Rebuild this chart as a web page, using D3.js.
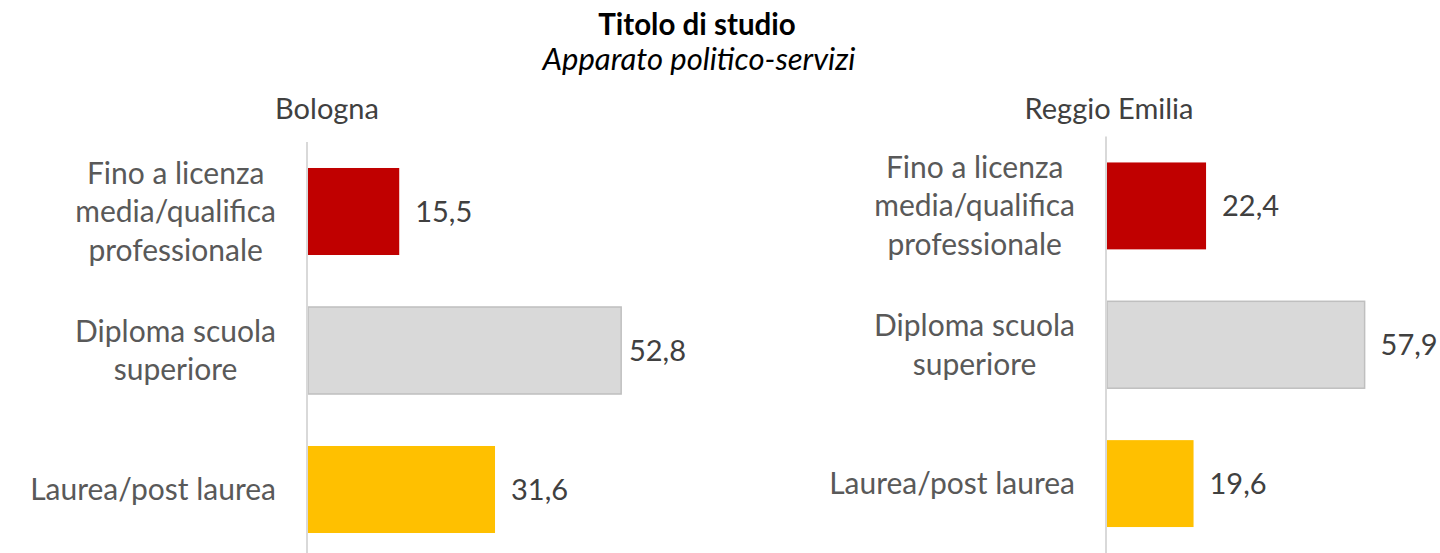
<!DOCTYPE html>
<html>
<head>
<meta charset="utf-8">
<script src="https://cdn.jsdelivr.net/npm/d3@7"></script>
<style>
  html, body { margin: 0; padding: 0; background: #fff; }
  svg text { font-family: Lato, "Open Sans", sans-serif; }
</style>
</head>
<body>
<svg width="1440" height="553"></svg>
<script>
const categories = ['Fino a licenza media/qualifica professionale', 'Diploma scuola superiore', 'Laurea/post laurea'];
const categoryLines = [['Fino a licenza', 'media/qualifica', 'professionale'], ['Diploma scuola', 'superiore'], ['Laurea/post laurea']];
const cities = ['Bologna', 'Reggio Emilia'];
const bolognaValues = [15.5, 52.8, 31.6];
const reggioValues = [22.4, 57.9, 19.6];
const barColors = ['#c00000', '#d9d9d9', '#ffc000'];

const svg = d3.select('svg');

const it = d3.formatLocale({ decimal: ',', thousands: '.', grouping: [3], currency: ['€', ''] });
const fmt = it.format('.1f');

svg.append('text')
  .attr('x', 697).attr('y', 35)
  .attr('text-anchor', 'middle')
  .attr('font-size', 29.5).attr('font-weight', 'bold').attr('fill', '#000')
  .text('Titolo di studio');

svg.append('text')
  .attr('x', 699).attr('y', 70)
  .attr('text-anchor', 'middle')
  .attr('font-size', 31).attr('font-style', 'italic').attr('fill', '#000')
  .text('Apparato politico-servizi');

const panels = [
  { city: cities[0], values: bolognaValues, axisX: 307, pxWidth: 357, y0: 142, y1: 559, titleX: 327, maxRight: 686 },
  { city: cities[1], values: reggioValues, axisX: 1106, pxWidth: 268, y0: 136.5, y1: 553, titleX: 1109, maxRight: 1440 }
];

const render = (p) => {
  const data = categories.map((c, i) => ({ cat: c, lines: categoryLines[i], value: p.values[i], color: barColors[i] }));

  const xScale = d3.scaleLinear().domain([0, 60]).range([p.axisX, p.axisX + p.pxWidth]);
  const yScale = d3.scaleBand()
    .domain(categories)
    .range([p.y0, p.y1])
    .paddingInner(0.374)
    .paddingOuter(0.187);

  const g = svg.append('g');

  g.append('text')
    .attr('x', p.titleX).attr('y', 119)
    .attr('text-anchor', 'middle')
    .attr('font-size', 29).attr('fill', '#404040')
    .text(p.city);

  // bars
  g.selectAll('rect.bar')
    .data(data)
    .enter()
    .append('rect')
    .attr('class', 'bar')
    .attr('x', xScale(0) + 1)
    .attr('y', (d) => yScale(d.cat))
    .attr('width', (d) => xScale(d.value) - xScale(0) - 1)
    .attr('height', yScale.bandwidth())
    .attr('fill', (d) => d.color)
    .attr('stroke', (d) => (d.color === '#d9d9d9' ? '#bfbfbf' : 'none'))
    .attr('stroke-width', 1.5);

  // vertical axis line
  g.append('line')
    .attr('x1', xScale(0)).attr('x2', xScale(0))
    .attr('y1', p.y0).attr('y2', p.y1)
    .attr('stroke', '#d9d9d9').attr('stroke-width', 2);

  // category labels: block right-aligned to the axis, lines centred within
  const lineH = 38.5;
  const labelRight = xScale(0) - 31;
  data.forEach((d) => {
    const cy = yScale(d.cat) + yScale.bandwidth() / 2;
    const t = g.append('g');
    const texts = t.selectAll('text')
      .data(d.lines)
      .enter()
      .append('text')
      .attr('y', (l, i) => cy + (i - (d.lines.length - 1) / 2) * lineH)
      .attr('dy', '0.35em')
      .attr('text-anchor', 'middle')
      .attr('font-size', 30).attr('fill', '#595959')
      .text((l) => l);
    const maxW = d3.max(texts.nodes(), (n) => n.getComputedTextLength());
    texts.attr('x', labelRight - maxW / 2);
  });

  // value labels
  g.selectAll('text.val')
    .data(data)
    .enter()
    .append('text')
    .attr('class', 'val')
    .attr('y', (d) => yScale(d.cat) + yScale.bandwidth() / 2)
    .attr('dy', '0.35em')
    .attr('font-size', 29).attr('fill', '#404040')
    .text((d) => fmt(d.value))
    .attr('x', function (d) {
      const w = this.getComputedTextLength();
      return Math.min(xScale(d.value) + 16, p.maxRight - w);
    });
};

panels.forEach(render);
</script>
</body>
</html>
